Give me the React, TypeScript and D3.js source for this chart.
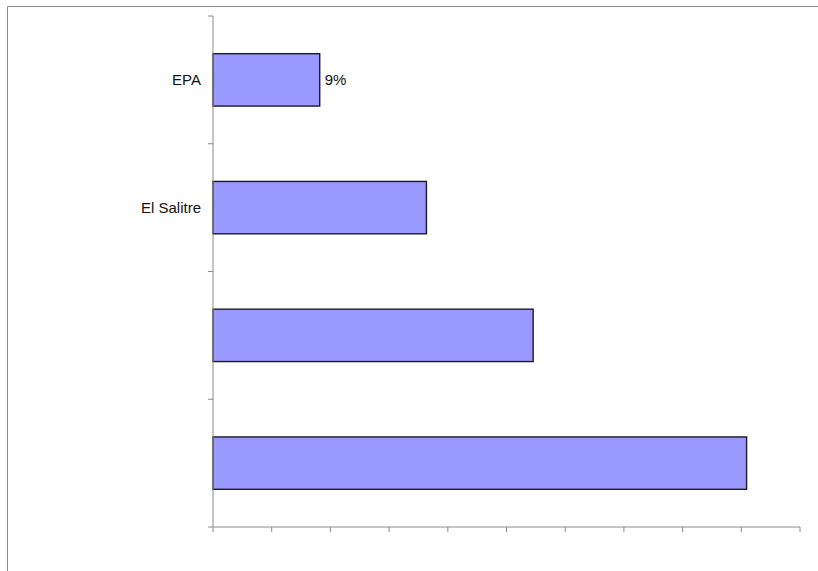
import React from "react";
import * as d3 from "d3";

const categories: string[] = ["EPA", "El Salitre", "", ""];
const values: number[] = [9.09, 18.18, 27.27, 45.45];
const barLabels: string[] = ["9%", "", "", ""];
const xTicks: number[] = [0, 5, 10, 15, 20, 25, 30, 35, 40, 45, 50];

const W = 818;
const H = 571;
const left = 213;
const right = 800;
const top = 16;
const bottom = 527;

export default function App() {
  const x = d3.scaleLinear().domain([0, 50]).range([left, right]);
  const y = d3
    .scaleBand<number>()
    .domain(d3.range(categories.length))
    .range([top, bottom])
    .paddingInner(0.59)
    .paddingOuter(0.295);
  const band = (bottom - top) / categories.length;
  const yBoundaries = d3.range(categories.length + 1).map((i) => top + i * band);
  const gray = "#8a8a8a";
  const font = "Liberation Sans, Arial, sans-serif";

  return (
    <svg
      width={W}
      height={H}
      style={{ position: "absolute", left: 0, top: 0, background: "#fff" }}
    >
      <rect x={0} y={0} width={W} height={H} fill="#fff" />
      {/* frame */}
      <line x1={7.5} y1={6.5} x2={W} y2={6.5} stroke={gray} strokeWidth={1} />
      <line x1={7.5} y1={6.5} x2={7.5} y2={H} stroke={gray} strokeWidth={1} />

      {/* bars */}
      {values.map((v, i) => (
        <rect
          key={"b" + i}
          x={x(0)}
          y={y(i)!}
          width={x(v) - x(0)}
          height={y.bandwidth()}
          fill="#9999ff"
          stroke="#1a1a2a"
          strokeWidth={1.4}
        />
      ))}

      {/* y axis */}
      <line x1={left} y1={top} x2={left} y2={bottom} stroke={gray} strokeWidth={1} />
      {yBoundaries.map((yy, i) => (
        <line key={"yt" + i} x1={left - 5} y1={yy} x2={left} y2={yy} stroke={gray} />
      ))}
      {/* x axis */}
      <line x1={left} y1={bottom} x2={right} y2={bottom} stroke={gray} strokeWidth={1} />
      {xTicks.map((t, i) => (
        <line key={"xt" + i} x1={x(t)} y1={bottom} x2={x(t)} y2={bottom + 5} stroke={gray} />
      ))}

      {/* category labels */}
      {categories.map((c, i) => (
        <text
          key={"c" + i}
          x={left - 12}
          y={y(i)! + y.bandwidth() / 2}
          dy="0.36em"
          textAnchor="end"
          fontFamily={font}
          fontSize={15}
          fill="#111"
        >
          {c}
        </text>
      ))}

      {/* value labels */}
      {barLabels.map((l, i) =>
        l ? (
          <text
            key={"l" + i}
            x={x(values[i]) + 5}
            y={y(i)! + y.bandwidth() / 2}
            dy="0.36em"
            fontFamily={font}
            fontSize={15}
            fill="#111"
          >
            {l}
          </text>
        ) : null
      )}
    </svg>
  );
}
